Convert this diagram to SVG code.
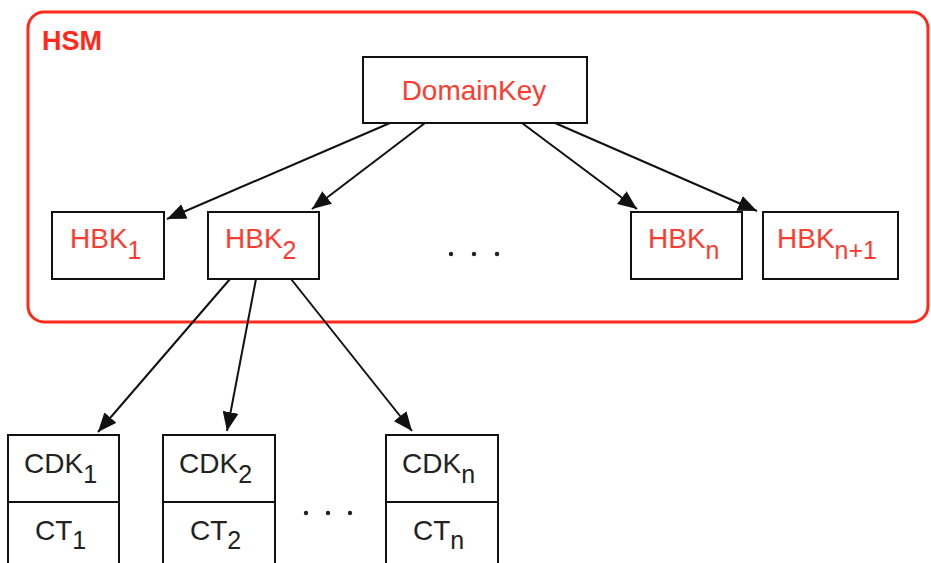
<svg xmlns="http://www.w3.org/2000/svg" width="931" height="563" viewBox="0 0 931 563">
<defs>
<style>
.box{fill:#ffffff;stroke:#111111;stroke-width:2}
.red{fill:#ff3b2f;font-family:"Liberation Sans",Arial,sans-serif;font-size:28px}
.blk{fill:#222222;font-family:"Liberation Sans",Arial,sans-serif;font-size:28px}
.sub{font-size:25px}
.edge{stroke:#111111;stroke-width:2;fill:none;marker-end:url(#ah)}
.dot{fill:#222222}
</style>
<marker id="ah" markerUnits="userSpaceOnUse" markerWidth="20" markerHeight="16" refX="19" refY="8" orient="auto">
<path d="M0,0 L19,8 L0,16 z" fill="#111111"/>
</marker>
</defs>
<rect width="931" height="563" fill="#ffffff"/>
<g id="hsm">
<rect x="28" y="12" width="900" height="310" rx="16" ry="16" fill="none" stroke="#ff2a1a" stroke-width="3"/>
<text x="42" y="50" fill="#ff2a1a" font-family="Liberation Sans,Arial,sans-serif" font-weight="bold" font-size="27">HSM</text>
</g>
<g id="connectors">
<line class="edge" x1="390" y1="123" x2="167" y2="219"/>
<line class="edge" x1="425" y1="123" x2="312" y2="209"/>
<line class="edge" x1="522" y1="123" x2="637" y2="209"/>
<line class="edge" x1="555" y1="123" x2="757" y2="211"/>
<line class="edge" x1="230" y1="279" x2="98" y2="432"/>
<line class="edge" x1="256" y1="279" x2="227" y2="431"/>
<line class="edge" x1="291" y1="279" x2="412" y2="431"/>
</g>
<g id="domainkey">
<rect class="box" x="363" y="57" width="224" height="66"/>
<text class="red" x="474" y="100" text-anchor="middle" font-size="30">DomainKey</text>
</g>
<g id="hbk1">
<rect class="box" x="52" y="212" width="112" height="67"/>
<text class="red" x="70" y="248">HBK<tspan class="sub" dy="11">1</tspan></text>
</g>
<g id="hbk2">
<rect class="box" x="208" y="212" width="111" height="67"/>
<text class="red" x="225" y="248">HBK<tspan class="sub" dy="11">2</tspan></text>
</g>
<g id="hbk-dots">
<circle class="dot" cx="451" cy="254" r="2.2"/>
<circle class="dot" cx="474" cy="254" r="2.2"/>
<circle class="dot" cx="497" cy="254" r="2.2"/>
</g>
<g id="hbkn">
<rect class="box" x="631" y="212" width="111" height="67"/>
<text class="red" x="648" y="248">HBK<tspan class="sub" dy="11">n</tspan></text>
</g>
<g id="hbkn1">
<rect class="box" x="763" y="212" width="135" height="67"/>
<text class="red" x="777" y="248">HBK<tspan class="sub" dy="11">n+1</tspan></text>
</g>
<g id="cdk1">
<rect class="box" x="8" y="435" width="111" height="140"/>
<line x1="8" y1="502" x2="119" y2="502" stroke="#111111" stroke-width="2"/>
<text class="blk" x="24" y="473">CDK<tspan class="sub" dy="10">1</tspan></text>
<text class="blk" x="35" y="540">CT<tspan class="sub" dy="9">1</tspan></text>
</g>
<g id="cdk2">
<rect class="box" x="163" y="435" width="112" height="140"/>
<line x1="163" y1="502" x2="275" y2="502" stroke="#111111" stroke-width="2"/>
<text class="blk" x="179" y="473">CDK<tspan class="sub" dy="10">2</tspan></text>
<text class="blk" x="190" y="540">CT<tspan class="sub" dy="9">2</tspan></text>
</g>
<g id="cdk-dots">
<circle class="dot" cx="306" cy="513" r="2.2"/>
<circle class="dot" cx="328" cy="513" r="2.2"/>
<circle class="dot" cx="350" cy="513" r="2.2"/>
</g>
<g id="cdkn">
<rect class="box" x="386" y="435" width="112" height="140"/>
<line x1="386" y1="502" x2="498" y2="502" stroke="#111111" stroke-width="2"/>
<text class="blk" x="402" y="473">CDK<tspan class="sub" dy="10">n</tspan></text>
<text class="blk" x="413" y="540">CT<tspan class="sub" dy="9">n</tspan></text>
</g>
</svg>
